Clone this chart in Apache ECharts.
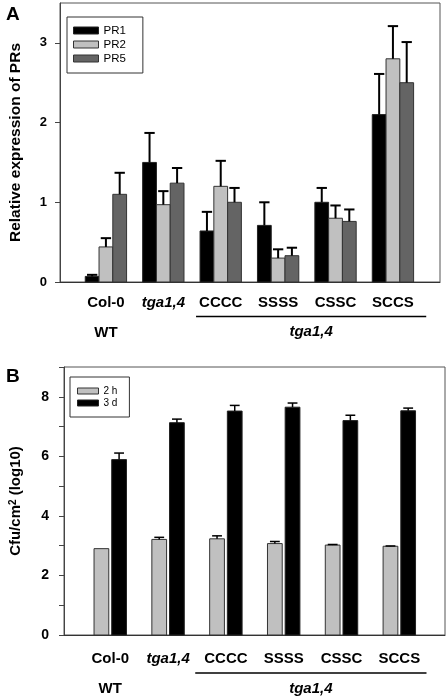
<!DOCTYPE html>
<html>
<head>
<meta charset="utf-8">
<script src="https://cdn.jsdelivr.net/npm/echarts@6/dist/echarts.min.js"></script>
<style>
html,body{margin:0;padding:0;background:#fff;}
#c{width:448px;height:699px;}
</style>
</head>
<body>
<div id="c"></div>
<script>
// ---------- data ----------
const categories = ['Col-0', 'tga1,4', 'CCCC', 'SSSS', 'CSSC', 'SCCS'];
const italicCats = ['tga1,4'];
// Panel A: relative expression of PRs
const pr1 = [0.07, 1.50, 0.64, 0.71, 1.00, 2.10];
const pr1Err = [0.02, 0.37, 0.24, 0.29, 0.18, 0.51];
const pr2 = [0.44, 0.97, 1.20, 0.30, 0.80, 2.80];
const pr2Err = [0.11, 0.17, 0.32, 0.11, 0.16, 0.41];
const pr5 = [1.10, 1.24, 1.00, 0.33, 0.76, 2.50];
const pr5Err = [0.27, 0.19, 0.18, 0.10, 0.15, 0.51];
const yTicksA = [0, 1, 2, 3];
// Panel B: Cfu/cm2 (log10)
const h2 = [2.90, 3.21, 3.23, 3.07, 3.02, 2.98];
const h2Err = [0, 0.07, 0.10, 0.07, 0.02, 0.01];
const d3 = [5.89, 7.13, 7.52, 7.65, 7.20, 7.53];
const d3Err = [0.22, 0.12, 0.19, 0.14, 0.18, 0.09];
const yLabelsB = [0, 2, 4, 6, 8];
const yTicksB = [0, 1, 2, 3, 4, 5, 6, 7, 8, 9];
const groupLabel = 'tga1,4';
const wtLabel = 'WT';

// ---------- helpers ----------
const FONT = '"Liberation Sans", Arial, sans-serif';
const catIdx = categories.map((c, i) => i);

function toData(vals, errs) {
  return vals.map((v, i) => [i, v, errs[i]]);
}

function makeRender(offset, width, fill, stroke, capHalf, errWidth) {
  return function (params, api) {
    const x = api.value(0), v = api.value(1), e = api.value(2);
    const cx = x + offset;
    const tl = api.coord([cx - width / 2, v]);
    const br = api.coord([cx + width / 2, 0]);
    const children = [{
      type: 'rect',
      shape: { x: tl[0], y: tl[1], width: br[0] - tl[0], height: br[1] - tl[1] },
      style: { fill: fill, stroke: stroke, lineWidth: 1 }
    }];
    if (e > 0) {
      const b = api.coord([cx, v]);
      const t = api.coord([cx, v + e]);
      const cl = api.coord([cx - capHalf, v + e]);
      const cr = api.coord([cx + capHalf, v + e]);
      children.push({ type: 'line', shape: { x1: b[0], y1: b[1], x2: t[0], y2: t[1] }, style: { stroke: '#000', lineWidth: errWidth } });
      children.push({ type: 'line', shape: { x1: cl[0], y1: cl[1], x2: cr[0], y2: cr[1] }, style: { stroke: '#000', lineWidth: errWidth } });
    }
    return { type: 'group', children: children };
  };
}

function xLabelFmt(v) {
  const i = Math.round(v);
  const c = categories[i];
  let s = italicCats.indexOf(c) >= 0 ? '{i|' + c + '}' : '{b|' + c + '}';
  if (i === 0) s += '\n{b|' + wtLabel + '}';
  return s;
}
const richX = {
  b: { fontFamily: FONT, fontWeight: 'bold', fontSize: 15, lineHeight: 30, color: '#000' },
  i: { fontFamily: FONT, fontWeight: 'bold', fontStyle: 'italic', fontSize: 15, lineHeight: 30, color: '#000' }
};

const colA = { PR1: '#000000', PR2: '#c0c0c0', PR5: '#646464' };
const colB = { h2: '#c0c0c0', d3: '#000000' };

const chart = echarts.init(document.getElementById('c'), null, { renderer: 'canvas' });

const option = {
  animation: false,
  backgroundColor: '#fff',
  textStyle: { fontFamily: FONT },
  title: [
    { text: 'A', left: 1, top: 0, textStyle: { fontFamily: FONT, fontWeight: 'bold', fontSize: 19, color: '#000' } },
    { text: 'B', left: 1, top: 362, textStyle: { fontFamily: FONT, fontWeight: 'bold', fontSize: 19, color: '#000' } }
  ],
  grid: [
    { left: 52, top: 3, right: 8, height: 279, show: true, borderColor: '#555', borderWidth: 1, backgroundColor: 'transparent' },
    { left: 58, top: 367, right: 3, height: 268, show: true, borderColor: '#555', borderWidth: 1, backgroundColor: 'transparent' }
  ],
  legend: [
    {
      left: 67, top: 17, orient: 'vertical',
      padding: [7, 17, 8, 6], itemGap: 1,
      itemWidth: 25, itemHeight: 7,
      borderColor: '#333', borderWidth: 1, backgroundColor: '#fff',
      textStyle: { fontFamily: FONT, fontSize: 11.5, lineHeight: 13, color: '#000' },
      data: [
        { name: 'PR1', icon: 'rect', itemStyle: { color: colA.PR1, borderColor: '#222', borderWidth: 1 } },
        { name: 'PR2', icon: 'rect', itemStyle: { color: colA.PR2, borderColor: '#333', borderWidth: 1 } },
        { name: 'PR5', icon: 'rect', itemStyle: { color: colA.PR5, borderColor: '#333', borderWidth: 1 } }
      ]
    },
    {
      left: 70, top: 377, orient: 'vertical',
      padding: [8, 12, 8, 7], itemGap: 0,
      itemWidth: 21, itemHeight: 6,
      borderColor: '#333', borderWidth: 1, backgroundColor: '#fff',
      textStyle: { fontFamily: FONT, fontSize: 10, lineHeight: 12, color: '#000' },
      data: [
        { name: '2 h', icon: 'rect', itemStyle: { color: colB.h2, borderColor: '#333', borderWidth: 1 } },
        { name: '3 d', icon: 'rect', itemStyle: { color: colB.d3, borderColor: '#222', borderWidth: 1 } }
      ]
    }
  ],
  xAxis: [
    {
      type: 'value', gridIndex: 0, min: -0.80, max: 5.82,
      axisLine: { show: true, onZero: false, lineStyle: { color: '#333', width: 1 } },
      axisTick: { show: false }, splitLine: { show: false },
      axisLabel: { customValues: catIdx, formatter: xLabelFmt, rich: richX, margin: 6 }
    },
    {
      type: 'value', gridIndex: 1, min: -0.80, max: 5.79,
      axisLine: { show: true, onZero: false, lineStyle: { color: '#333', width: 1 } },
      axisTick: { show: false }, splitLine: { show: false },
      axisLabel: { customValues: catIdx, formatter: xLabelFmt, rich: richX, margin: 9 }
    }
  ],
  yAxis: [
    {
      type: 'value', gridIndex: 0, min: 0, max: 3.5,
      name: 'Relative expression of PRs', nameLocation: 'middle', nameGap: 36,
      nameTextStyle: { fontFamily: FONT, fontWeight: 'bold', fontSize: 15.5, color: '#000' },
      axisLine: { show: true, onZero: false, lineStyle: { color: '#444', width: 1 } },
      axisTick: { show: true, inside: false, length: 5, customValues: yTicksA, lineStyle: { color: '#444' } },
      splitLine: { show: false },
      axisLabel: { customValues: yTicksA, margin: 13, fontFamily: FONT, fontWeight: 'bold', fontSize: 13, color: '#000' }
    },
    {
      type: 'value', gridIndex: 1, min: 0, max: 9,
      name: 'Cfu/cm{sup|2} (log10)', nameLocation: 'middle', nameGap: 41,
      nameTextStyle: {
        fontFamily: FONT, fontWeight: 'bold', fontSize: 15, color: '#000',
        rich: {
          sup: { fontFamily: FONT, fontWeight: 'bold', fontSize: 10, verticalAlign: 'top', color: '#000' }
        }
      },
      axisLine: { show: true, onZero: false, lineStyle: { color: '#444', width: 1 } },
      axisTick: { show: true, inside: false, length: 5, customValues: yTicksB, lineStyle: { color: '#444' } },
      splitLine: { show: false },
      axisLabel: { customValues: yLabelsB, margin: 15, fontFamily: FONT, fontWeight: 'bold', fontSize: 14, color: '#000' }
    }
  ],
  series: [
    { name: 'PR1', type: 'custom', xAxisIndex: 0, yAxisIndex: 0, itemStyle: { color: colA.PR1 },
      renderItem: makeRender(-0.24, 0.24, colA.PR1, '#222', 0.09, 2), data: toData(pr1, pr1Err), encode: { x: 0, y: 1 } },
    { name: 'PR2', type: 'custom', xAxisIndex: 0, yAxisIndex: 0, itemStyle: { color: colA.PR2 },
      renderItem: makeRender(0, 0.24, colA.PR2, '#333', 0.09, 2), data: toData(pr2, pr2Err), encode: { x: 0, y: 1 } },
    { name: 'PR5', type: 'custom', xAxisIndex: 0, yAxisIndex: 0, itemStyle: { color: colA.PR5 },
      renderItem: makeRender(0.24, 0.24, colA.PR5, '#333', 0.09, 2), data: toData(pr5, pr5Err), encode: { x: 0, y: 1 } },
    { name: '2 h', type: 'custom', xAxisIndex: 1, yAxisIndex: 1, itemStyle: { color: colB.h2 },
      renderItem: makeRender(-0.153, 0.255, colB.h2, '#333', 0.085, 1.5), data: toData(h2, h2Err), encode: { x: 0, y: 1 } },
    { name: '3 d', type: 'custom', xAxisIndex: 1, yAxisIndex: 1, itemStyle: { color: colB.d3 },
      renderItem: makeRender(0.153, 0.255, colB.d3, '#222', 0.085, 1.5), data: toData(d3, d3Err), encode: { x: 0, y: 1 } }
  ]
};
chart.setOption(option);

// group annotation (underline + group label) positioned through the axes
function groupGraphics(gridIndex, fromX, toX, lineDy, textDy) {
  const p1 = chart.convertToPixel({ gridIndex: gridIndex }, [fromX, 0]);
  const p2 = chart.convertToPixel({ gridIndex: gridIndex }, [toX, 0]);
  const pm = chart.convertToPixel({ gridIndex: gridIndex }, [(fromX + toX) / 2, 0]);
  return [
    { type: 'line', silent: true, shape: { x1: p1[0], y1: p1[1] + lineDy, x2: p2[0], y2: p2[1] + lineDy },
      style: { stroke: '#000', lineWidth: 1.6 } },
    { type: 'text', silent: true, x: pm[0], y: pm[1] + textDy,
      style: { text: groupLabel, fill: '#000', font: 'italic bold 15px ' + FONT, align: 'center', verticalAlign: 'middle' } }
  ];
}
chart.setOption({
  graphic: [].concat(
    groupGraphics(0, 1.57, 5.58, 34.5, 50),
    groupGraphics(1, 1.47, 5.47, 38, 54)
  )
});
</script>
</body>
</html>
